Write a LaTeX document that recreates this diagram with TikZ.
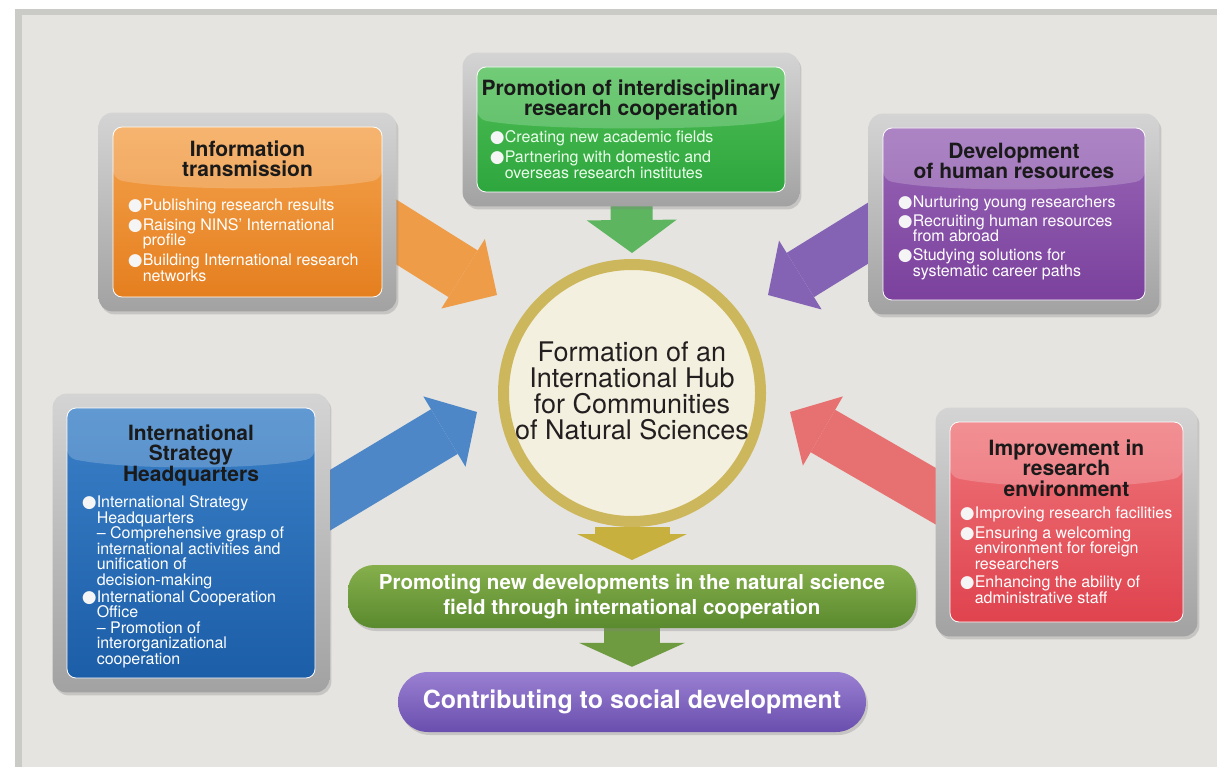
\documentclass[tikz,border=0pt]{standalone}
\usepackage{fontspec}
\setmainfont{TeX Gyre Heros}
\newfontfamily\dotfont{DejaVu Sans}
\usetikzlibrary{positioning,arrows.meta,fit,backgrounds,shadows}

\definecolor{panelbg}{HTML}{E5E4E0}
\definecolor{panelrim}{HTML}{CACAC6}
\definecolor{framelight}{HTML}{D4D4D4}
\definecolor{framedark}{HTML}{A2A2A2}
\definecolor{titlecol}{HTML}{1A1A1A}
\definecolor{orangeT}{HTML}{F4A24C}
\definecolor{orangeB}{HTML}{E57F1F}
\definecolor{orangeA}{HTML}{EF9C48}
\definecolor{greenT}{HTML}{4FBF55}
\definecolor{greenB}{HTML}{2EA63E}
\definecolor{greenA}{HTML}{5DB55F}
\definecolor{purpleT}{HTML}{9866B6}
\definecolor{purpleB}{HTML}{7B419D}
\definecolor{purpleA}{HTML}{8463B5}
\definecolor{blueT}{HTML}{3A80C7}
\definecolor{blueB}{HTML}{1C5EA8}
\definecolor{blueA}{HTML}{4D87C7}
\definecolor{redT}{HTML}{EF7479}
\definecolor{redB}{HTML}{DF434E}
\definecolor{redA}{HTML}{E77170}
\definecolor{goldring}{HTML}{CDB75C}
\definecolor{goldA}{HTML}{C8B03E}
\definecolor{cream}{HTML}{F4F0DF}
\definecolor{hubtext}{HTML}{231F20}
\definecolor{fieldT}{HTML}{86AF4C}
\definecolor{fieldB}{HTML}{5A8A2E}
\definecolor{fieldA}{HTML}{6F9B40}
\definecolor{socialT}{HTML}{9A80D2}
\definecolor{socialB}{HTML}{6A4EAE}

% bullet and hanging indent for the item lists
\newcommand\bul{\makebox[15pt][l]{\dotfont\fontsize{17}{15}\selectfont\color{white!92!gray}●}}
\newcommand\ind{\hspace*{15pt}}

\pgfdeclarelayer{back}
\pgfsetlayers{back,background,main}

\begin{document}
\begin{tikzpicture}[x=1pt,y=-1pt,
  box/.style 2 args={rounded corners=9pt, draw=white!65, line width=.8pt,
    top color=#1, bottom color=#2, inner sep=0pt},
  shine/.style={path picture={\fill[white,opacity=.2]
    (path picture bounding box.north west) -- ([yshift=-#1]path picture bounding box.north west)
    .. controls +(60pt,-12pt) and +(-60pt,-12pt) .. ([yshift=-#1]path picture bounding box.north east)
    -- (path picture bounding box.north east) -- cycle;}},
  frame/.style={rounded corners=14pt, inner sep=14pt, top color=framelight, bottom color=framedark,
    drop shadow={opacity=.3, shadow xshift=2pt, shadow yshift=-3pt}},
  title/.style={font=\fontsize{21}{20.5}\selectfont\bfseries, text=titlecol, align=center, inner sep=0pt},
  body/.style={font=\fontsize{16}{15.5}\selectfont, text=white, align=left, inner sep=0pt},
  pill/.style={text=white, align=center, inner sep=0pt, font=\bfseries,
    drop shadow={opacity=.3, shadow xshift=2pt, shadow yshift=-3pt}},
  flow/.style n args={4}{draw=#1, line width=#2, -{Triangle[width=#3,length=#4,line width=0pt]}},
]
\useasboundingbox (0,0) rectangle (1217,767);

% the five boxes
\node[box={orangeT}{orangeB}, shine=52pt, minimum width=269pt, minimum height=170pt] (info) at (247.5,212) {};
\node[title, below=14pt of info.north] (infoTitle) {Information\\transmission};
\node[body, below right=72pt and 15pt of info.north west] (infoText) {%
\bul Publishing research results\\[4.5pt]
\bul Raising NINS' International\\
\ind profile\\[4.5pt]
\bul Building International research\\
\ind networks};

\node[box={greenT}{greenB}, shine=52pt, minimum width=308pt, minimum height=125pt] (coop) at (631,129.5) {};
\node[title, below=13pt of coop.north] (coopTitle) {Promotion of interdisciplinary\\research cooperation};
\node[body, text=green!8!white, below right=64pt and 13pt of coop.north west] (coopText) {%
\bul Creating new academic fields\\[4.5pt]
\bul Partnering with domestic and\\
\ind overseas research institutes};

\node[box={purpleT}{purpleB}, shine=52pt, minimum width=262pt, minimum height=172pt] (dev) at (1014,214) {};
\node[title, below=15pt of dev.north] (devTitle) {Development\\of human resources};
\node[body, below right=68pt and 15pt of dev.north west] (devText) {%
\bul Nurturing young researchers\\[3.5pt]
\bul Recruiting human resources\\
\ind from abroad\\[3.5pt]
\bul Studying solutions for\\
\ind systematic career paths};

\node[box={blueT}{blueB}, shine=50pt, minimum width=248pt, minimum height=270pt] (strat) at (191,543) {};
\node[title, below=17pt of strat.north] (stratTitle) {International\\Strategy\\Headquarters};
\node[body, below right=88pt and 15pt of strat.north west] (stratText) {%
\bul International Strategy\\
\ind Headquarters\\
\ind -- Comprehensive grasp of\\
\ind international activities and\\
\ind unification of\\
\ind decision-making\\[1.5pt]
\bul International Cooperation\\
\ind Office\\
\ind -- Promotion of\\
\ind interorganizational\\
\ind cooperation};

\node[box={redT}{redB}, shine=55pt, minimum width=233pt, minimum height=200pt] (env) at (1066.5,522) {};
\node[title, below=18pt of env.north] (envTitle) {Improvement in\\research\\environment};
\node[body, below right=85pt and 10pt of env.north west] (envText) {%
\bul Improving research facilities\\[4pt]
\bul Ensuring a welcoming\\
\ind environment for foreign\\
\ind researchers\\[3pt]
\bul Enhancing the ability of\\
\ind administrative staff};

% hub in the middle
\node[circle, fill=cream, draw=goldring, line width=11pt, minimum size=257pt, inner sep=0pt, outer sep=5.5pt,
  drop shadow={opacity=.25, shadow xshift=2pt, shadow yshift=-3pt}] (hub) at (632,393) {};
\node[align=center, text=hubtext, inner sep=0pt, font=\fontsize{27}{26}\selectfont] (hubText) at (632,391)
  {Formation of an\\International Hub\\for Communities\\of Natural Sciences};

% outcome pills
\node[pill, top color=fieldT, bottom color=fieldB, minimum width=568pt, minimum height=63pt,
  rounded corners=26pt, font=\fontsize{20.5}{24.5}\selectfont\bfseries] (field) at (632,596.5)
  {Promoting new developments in the natural science\\field through international cooperation};
\node[pill, top color=socialT, bottom color=socialB, minimum width=468pt, minimum height=60pt,
  rounded corners=30pt, font=\fontsize{25}{25}\selectfont\bfseries] (social) at (632,702)
  {Contributing to social development};

\coordinate (infoTip) at (497,295);
\coordinate (devTip) at (768,295);
\coordinate (stratTip) at (477,412);
\coordinate (envTip) at (790,412);

\begin{pgfonlayer}{background}
  % fat arrows into the hub and down to the outcomes
  \draw[flow={orangeA}{55pt}{82pt}{40pt}] ([xshift=-10pt,yshift=-5pt]info.east) -- (infoTip);
  \draw[flow={purpleA}{52pt}{81pt}{38pt}] ([xshift=10pt,yshift=-4pt]dev.west) -- (devTip);
  \draw[flow={blueA}{52pt}{82pt}{38pt}] ([xshift=-10pt,yshift=28pt]strat.east) -- (stratTip);
  \draw[flow={redA}{49pt}{80pt}{38pt}] ([xshift=10pt,yshift=12pt]env.west) -- (envTip);
  \draw[flow={greenA}{42pt}{90pt}{33pt}] (coop) -- ([yshift=6pt]hub.north);
  \draw[flow={goldA}{75pt}{110pt}{26pt}] (hub) -- ([yshift=-33pt]hub.south);
  \draw[flow={fieldA}{56pt}{106pt}{24pt}] (field) -- ([yshift=5pt]social.north);
  % grey bezels
  \node[frame, fit=(info)] (infoFrame) {};
  \node[frame, fit=(coop)] (coopFrame) {};
  \node[frame, fit=(dev)] (devFrame) {};
  \node[frame, fit=(strat)] (stratFrame) {};
  \node[frame, fit=(env)] (envFrame) {};
\end{pgfonlayer}

\begin{pgfonlayer}{back}
  \fill[white] (0,0) rectangle (1217,767);
  \fill[panelrim] (15,9) rectangle (1217,767);
  \fill[panelbg] (22,15) rectangle (1217,767);
\end{pgfonlayer}
\end{tikzpicture}
\end{document}
